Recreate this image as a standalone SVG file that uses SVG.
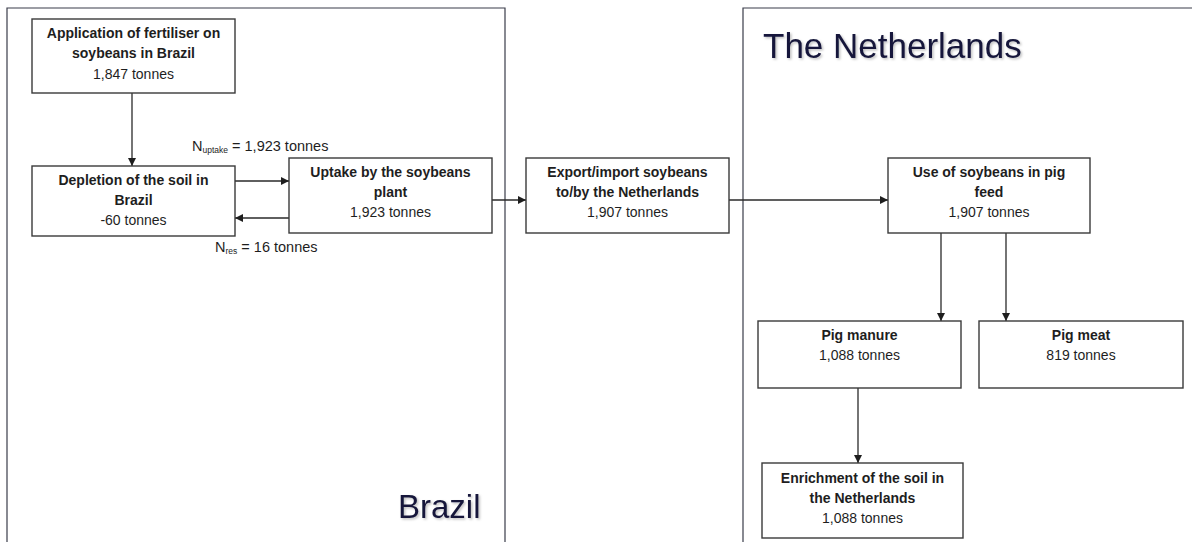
<svg xmlns="http://www.w3.org/2000/svg" width="1192" height="542" viewBox="0 0 1192 542">
<style>
.panel{fill:none;stroke:#3a3d4a;stroke-width:1.2}
.box{fill:#fff;stroke:#3a3a3a;stroke-width:1.4}
.t{font-family:"Liberation Sans",Arial,sans-serif;font-size:14px;fill:#1e1e1e;text-anchor:middle}
.b{font-weight:bold}
.lbl{font-family:"Liberation Sans",Arial,sans-serif;font-size:14.5px;fill:#1e1e1e}
.sub{font-size:8.5px}
.title{font-family:"Liberation Sans",Arial,sans-serif;fill:#15173a}
.con{fill:none;stroke:#2a2a2a;stroke-width:1.3}
</style>
<defs>
<marker id="ah" viewBox="0 0 10 10" refX="10" refY="5" markerWidth="8" markerHeight="8" markerUnits="userSpaceOnUse" orient="auto">
<path d="M0,0 L10,5 L0,10 z" fill="#1e1e1e"/>
</marker>
<filter id="sh" x="-5%" y="-20%" width="110%" height="140%">
<feDropShadow dx="1.5" dy="1.5" stdDeviation="1" flood-color="#000" flood-opacity="0.25"/>
</filter>
</defs>
<rect width="1192" height="542" fill="#fff"/>
<g id="panel-brazil">
<path class="panel" d="M7,542 V8 H505 V542"/>
<text class="title" x="398" y="518" font-size="33" filter="url(#sh)">Brazil</text>
</g>
<g id="panel-netherlands">
<path class="panel" d="M743,542 V8 H1192"/>
<text class="title" x="763" y="58" font-size="35" filter="url(#sh)">The Netherlands</text>
</g>
<g id="connectors">
<line class="con" x1="132" y1="93" x2="132" y2="166" marker-end="url(#ah)"/>
<line class="con" x1="235" y1="181" x2="289" y2="181" marker-end="url(#ah)"/>
<line class="con" x1="289" y1="218" x2="235" y2="218" marker-end="url(#ah)"/>
<line class="con" x1="492" y1="200" x2="526" y2="200" marker-end="url(#ah)"/>
<line class="con" x1="729" y1="200" x2="888" y2="200" marker-end="url(#ah)"/>
<line class="con" x1="941" y1="233" x2="941" y2="321" marker-end="url(#ah)"/>
<line class="con" x1="1006" y1="233" x2="1006" y2="321" marker-end="url(#ah)"/>
<line class="con" x1="858" y1="388" x2="858" y2="463" marker-end="url(#ah)"/>
<text class="lbl" x="192" y="151">N<tspan class="sub" dy="2">uptake</tspan><tspan dy="-2"> = 1,923 tonnes</tspan></text>
<text class="lbl" x="215" y="252">N<tspan class="sub" dy="2">res</tspan><tspan dy="-2"> = 16 tonnes</tspan></text>
</g>
<g id="n-fertiliser">
<rect class="box" x="32" y="19" width="203" height="74"/>
<text class="t b" x="133.5" y="38">Application of fertiliser on</text>
<text class="t b" x="133.5" y="58">soybeans in Brazil</text>
<text class="t" x="133.5" y="79">1,847 tonnes</text>
</g>
<g id="n-depletion">
<rect class="box" x="32" y="166" width="203" height="70"/>
<text class="t b" x="133.5" y="185">Depletion of the soil in</text>
<text class="t b" x="133.5" y="205">Brazil</text>
<text class="t" x="133.5" y="225">-60 tonnes</text>
</g>
<g id="n-uptake">
<rect class="box" x="289" y="158" width="203" height="75"/>
<text class="t b" x="390.5" y="177">Uptake by the soybeans</text>
<text class="t b" x="390.5" y="197">plant</text>
<text class="t" x="390.5" y="217">1,923 tonnes</text>
</g>
<g id="n-export">
<rect class="box" x="526" y="158" width="203" height="75"/>
<text class="t b" x="627.5" y="177">Export/import soybeans</text>
<text class="t b" x="627.5" y="197">to/by the Netherlands</text>
<text class="t" x="627.5" y="217">1,907 tonnes</text>
</g>
<g id="n-feed">
<rect class="box" x="888" y="158" width="202" height="75"/>
<text class="t b" x="989" y="177">Use of soybeans in pig</text>
<text class="t b" x="989" y="197">feed</text>
<text class="t" x="989" y="217">1,907 tonnes</text>
</g>
<g id="n-manure">
<rect class="box" x="758" y="321" width="203" height="67"/>
<text class="t b" x="859.5" y="340">Pig manure</text>
<text class="t" x="859.5" y="360">1,088 tonnes</text>
</g>
<g id="n-meat">
<rect class="box" x="979" y="321" width="204" height="67"/>
<text class="t b" x="1081" y="340">Pig meat</text>
<text class="t" x="1081" y="360">819 tonnes</text>
</g>
<g id="n-enrichment">
<rect class="box" x="762" y="463" width="201" height="75"/>
<text class="t b" x="862.5" y="483">Enrichment of the soil in</text>
<text class="t b" x="862.5" y="503">the Netherlands</text>
<text class="t" x="862.5" y="523">1,088 tonnes</text>
</g>
</svg>
